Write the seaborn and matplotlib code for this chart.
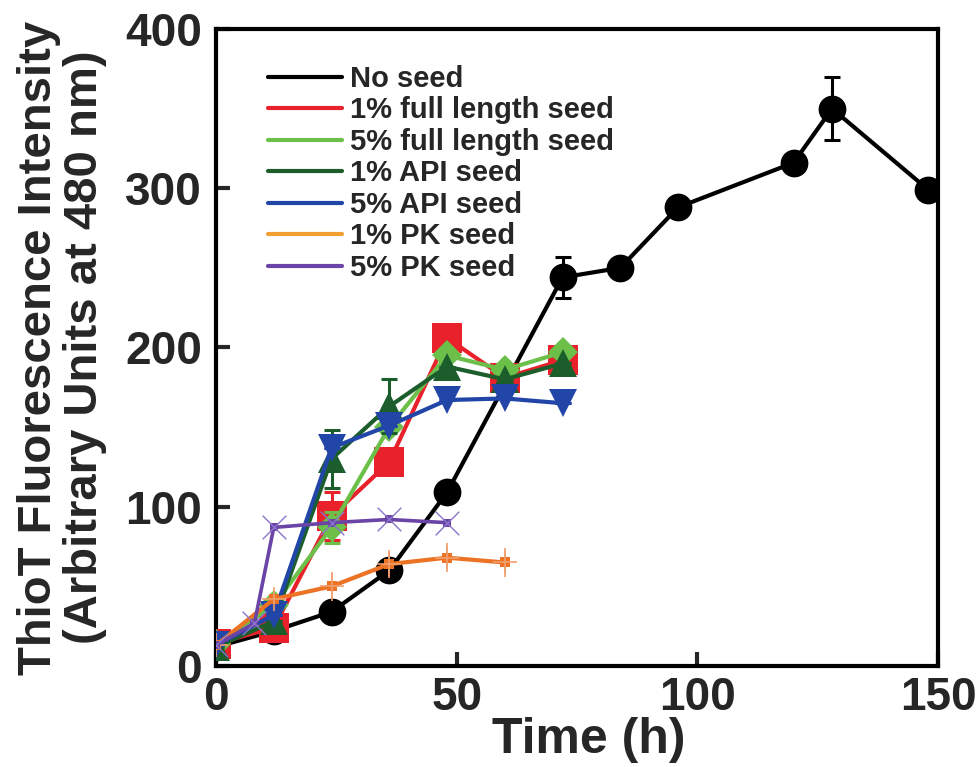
import numpy as np
import pandas as pd
import matplotlib
matplotlib.use("Agg")
import matplotlib.pyplot as plt
import seaborn as sns
from matplotlib.lines import Line2D

# ---------------- data ----------------
labels = ["No seed", "1% full length seed", "5% full length seed",
          "1% API seed", "5% API seed", "1% PK seed", "5% PK seed"]

t_none = [0, 12, 24, 36, 48, 72, 84, 96, 120, 128, 148]
y_none = [12, 22, 34, 60, 109, 244, 250, 288, 316, 350, 299]
e_none = [0, 0, 0, 0, 0, 13, 0, 0, 0, 20, 0]

t_seed = [0, 12, 24, 36, 48, 60, 72]
y_fl1 = [14, 24, 94, 128, 206, 181, 192]
e_fl1 = [0, 0, 15, 0, 0, 0, 0]
y_fl5 = [14, 38, 87, 150, 195, 186, 197]
e_fl5 = [0, 0, 10, 0, 0, 0, 0]
y_api1 = [12, 28, 130, 163, 188, 180, 190]
e_api1 = [0, 0, 18, 17, 0, 0, 0]
y_api5 = [13, 32, 137, 151, 167, 168, 165]
e_api5 = [0, 0, 0, 0, 0, 0, 0]

t_pk1 = [0, 12, 24, 36, 48, 60]
y_pk1 = [13, 42, 50, 64, 68, 65]
e_pk1 = [0, 0, 9, 9, 9, 9]

t_pk5 = [0, 8, 12, 24, 36, 48]
y_pk5 = [13, 27, 87, 90, 92, 90]

x_ticks = [0, 50, 100, 150]
y_ticks = [0, 100, 200, 300, 400]

# ---------------- style ----------------
sns.set_style("ticks")
plt.rcParams["font.family"] = ["Liberation Sans", "DejaVu Sans"]
plt.rcParams["font.weight"] = "bold"
plt.rcParams["axes.labelweight"] = "bold"

fig = plt.figure(figsize=(9.8, 7.67), dpi=100)
ax = fig.add_axes([0.2204, 0.1317, 0.7367, 0.8305])

colors = {
    "none": "#000000",
    "fl1": "#e8212b",
    "fl5": "#6cc04a",
    "api1": "#1b5e2c",
    "api5": "#2146a8",
    "pk1": "#ec7324",
    "pk5": "#6a44a6",
}
legend_colors = ["#000000", "#e8212b", "#6cc04a", "#1b5e2c", "#2146a8", "#f0a030", "#6a44a6"]

def main_series(t, y, e, col, marker, ms, z, lw=3.0):
    ax.errorbar(t, y, yerr=e, fmt="none", ecolor=col, elinewidth=2.2,
                capsize=6, capthick=2.2, zorder=z - 0.5)
    sns.lineplot(x=t, y=y, ax=ax, color=col, marker=marker, markersize=ms,
                 markeredgewidth=0, markeredgecolor=col, linewidth=lw,
                 legend=False, zorder=z, estimator=None, sort=False)

main_series(t_none, y_none, e_none, colors["none"], "o", 20, 3)
main_series(t_seed, y_fl1, e_fl1, colors["fl1"], "s", 21, 4)
main_series(t_seed, y_fl5, e_fl5, colors["fl5"], "D", 15, 5)
main_series(t_seed, y_api1, e_api1, colors["api1"], "^", 20, 6)
main_series(t_seed, y_api5, e_api5, colors["api5"], "v", 20, 7)

# 1% PK seed
ax.errorbar(t_pk1, y_pk1, yerr=e_pk1, fmt="none", ecolor="#f2a070",
            elinewidth=1.2, capsize=0, zorder=7.5)
sns.lineplot(x=t_pk1, y=y_pk1, ax=ax, color=colors["pk1"], marker="s",
             markersize=7, markeredgewidth=0, linewidth=3.0, legend=False,
             zorder=8, estimator=None, sort=False)
sns.scatterplot(x=t_pk1, y=y_pk1, ax=ax, color="#f2a070", marker="+",
                s=290, linewidth=1.2, legend=False, zorder=8.5)

# 5% PK seed
sns.lineplot(x=t_pk5, y=y_pk5, ax=ax, color=colors["pk5"], marker="s",
             markersize=6, markeredgewidth=0, linewidth=2.6, legend=False,
             zorder=9, estimator=None, sort=False)
sns.scatterplot(x=t_pk5, y=y_pk5, ax=ax, color="#8a74cc", marker="x",
                s=290, linewidth=1.0, legend=False, zorder=9.5)

# ---------------- axes ----------------
ax.set_xlim(0, 150)
ax.set_ylim(0, 400)
ax.set_xticks(x_ticks)
ax.set_yticks(y_ticks)
ax.set_xticklabels([str(v) for v in x_ticks])
ax.set_yticklabels([str(v) for v in y_ticks])
for sp in ax.spines.values():
    sp.set_visible(True)
    sp.set_linewidth(3)
    sp.set_color("black")
ax.tick_params(direction="in", length=10, width=3, labelsize=33, pad=10,
               top=False, right=False)
ax.tick_params(axis="x", pad=7)
for lab in ax.get_xticklabels() + ax.get_yticklabels():
    lab.set_fontweight("bold")

xl = ax.set_xlabel("Time (h)", fontsize=36, fontweight="bold", va="baseline")
ax.xaxis.set_label_coords(0.517, -0.136)
ax.set_ylabel("ThioT Fluorescence Intensity\n(Arbitrary Units at 480 nm)",
              fontsize=34, fontweight="bold", labelpad=13, linespacing=1.05)

handles = [Line2D([0], [0], color=c, lw=3) for c in legend_colors]
leg = ax.legend(handles, labels, loc="upper left", bbox_to_anchor=(0.056, 0.962),
                borderaxespad=0, frameon=False, handlelength=2.55,
                handletextpad=0.25, labelspacing=0.12,
                prop={"family": ["Liberation Sans", "DejaVu Sans"],
                      "weight": "bold", "size": 21})

fig.savefig("out.png", dpi=100)
